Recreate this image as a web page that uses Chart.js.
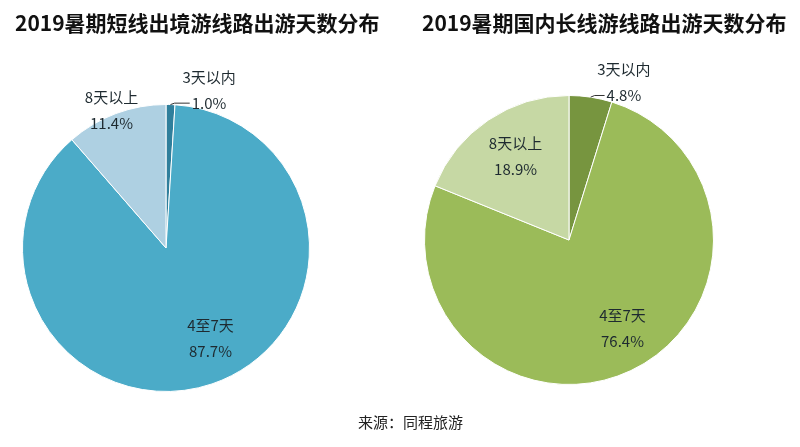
<!DOCTYPE html>
<html>
<head>
<meta charset="utf-8">
<script src="https://cdn.jsdelivr.net/npm/chart.js@4"></script>
<style>
  body { margin: 0; background: #fff; }
  #wrap { position: relative; width: 800px; height: 447px; overflow: hidden; }
  canvas { position: absolute; top: 0; }
  .title { position: absolute; top: 7px; font: bold 21px "Noto Sans CJK SC", sans-serif; color: #111; white-space: nowrap; }
  #source { position: absolute; top: 411px; left: 358px; font: 15px "Noto Sans CJK SC", sans-serif; color: #222; }
</style>
</head>
<body>
<div id="wrap">
  <canvas id="chartShort" width="400" height="447" style="left:0"></canvas>
  <canvas id="chartLong" width="400" height="447" style="left:400px"></canvas>
  <div class="title" style="left:15px">2019暑期短线出境游线路出游天数分布</div>
  <div class="title" style="left:422px">2019暑期国内长线游线路出游天数分布</div>
  <div id="source">来源：同程旅游</div>
</div>
<script>
const categories = ["3天以内", "4至7天", "8天以上"];
const shortHaulValues = [1.0, 87.7, 11.4];
const longHaulValues = [4.8, 76.4, 18.9];

// label placement, as fractions of the radius from the pie centre
const sliceLabels = {
  id: "sliceLabels",
  afterDatasetsDraw(chart, args, opts) {
    const ctx = chart.ctx;
    const meta = chart.getDatasetMeta(0);
    const values = chart.data.datasets[0].data;
    ctx.save();
    ctx.font = '15px "Noto Sans CJK SC", sans-serif';
    ctx.textAlign = "center";
    ctx.textBaseline = "middle";
    meta.data.forEach((arc, i) => {
      const r = arc.outerRadius;
      const [fx, fy] = opts.offsets[i];
      const lx = arc.x + fx * r;
      const ly = arc.y + fy * r;
      ctx.fillStyle = opts.color;
      ctx.fillText(chart.data.labels[i], lx, ly - 13);
      ctx.fillText(values[i].toFixed(1) + "%", lx, ly + 13);
      if (opts.leader === i) {
        const mid = (arc.startAngle + arc.endAngle) / 2;
        const ex = arc.x + Math.cos(mid) * r;
        const ey = arc.y + Math.sin(mid) * r;
        const tw = ctx.measureText(values[i].toFixed(1) + "%").width;
        ctx.strokeStyle = "#333";
        ctx.lineWidth = 1;
        ctx.beginPath();
        ctx.moveTo(ex, ey);
        ctx.lineTo(ex + 4, ly + 13);
        ctx.lineTo(lx - tw / 2 - 2, ly + 13);
        ctx.stroke();
      }
    });
    ctx.restore();
  }
};

function makePie(id, values, colors, padding, offsets) {
  return new Chart(document.getElementById(id), {
    type: "pie",
    data: {
      labels: categories,
      datasets: [
        {
          data: values,
          backgroundColor: colors,
          borderColor: "#ffffff",
          borderWidth: 1,
        },
      ],
    },
    options: {
      responsive: false,
      animation: false,
      layout: { padding: padding },
      plugins: {
        legend: { display: false },
        tooltip: { enabled: false },
        sliceLabels: { offsets: offsets, color: "#1e2a30", leader: 0 },
      },
    },
    plugins: [sliceLabels],
  });
}

makePie(
  "chartShort",
  shortHaulValues,
  ["#2f7f9c", "#4babc8", "#aed0e2"],
  { left: 22, top: 104, right: 90, bottom: 55 },
  [[0.3, -1.1], [0.31, 0.63], [-0.38, -0.96]]
);

makePie(
  "chartLong",
  longHaulValues,
  ["#77953f", "#9bbb59", "#c6d8a4"],
  { left: 24, top: 95, right: 86, bottom: 62 },
  [[0.38, -1.09], [0.37, 0.61], [-0.37, -0.58]]
);
</script>
</body>
</html>
